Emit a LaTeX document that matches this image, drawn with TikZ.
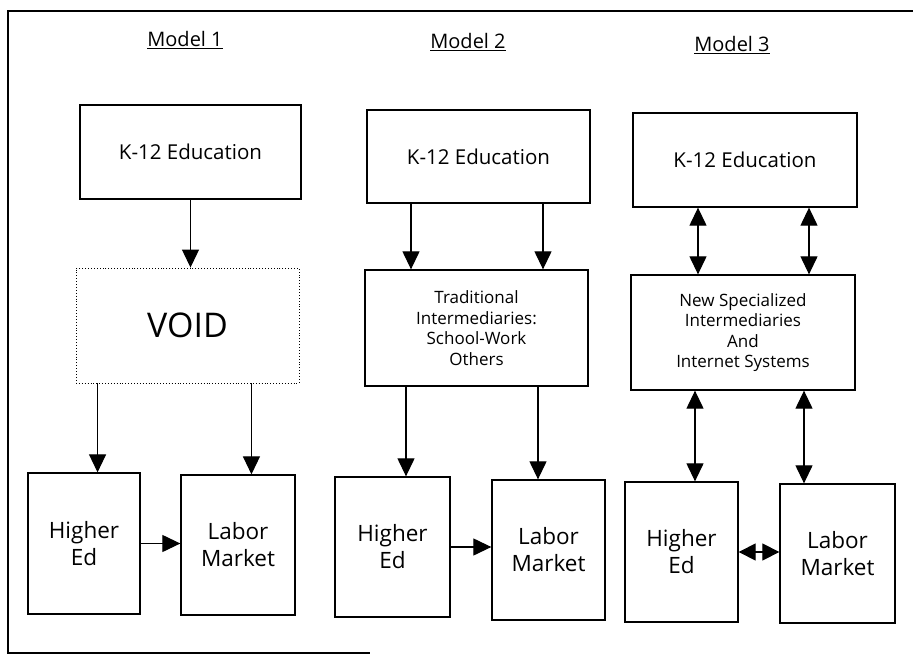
\documentclass[tikz,border=0pt]{standalone}
\usepackage{fontspec}
\setmainfont{Open Sans}
\usetikzlibrary{arrows.meta}
\begin{document}
\begin{tikzpicture}[x=1pt,y=-1pt,
  box/.style={draw, line width=1.3pt, rectangle, inner sep=0pt, align=center},
  voidbox/.style={draw, line width=0.9pt, dotted, rectangle, inner sep=0pt, align=center},
  toptxt/.style={font=\fontsize{20.5}{24}\selectfont},
  midtxt/.style={font=\fontsize{17}{20.5}\selectfont},
  bottxt/.style={font=\fontsize{22.5}{27}\selectfont},
  title/.style={font=\fontsize{20}{24}\selectfont, inner sep=0pt},
  arr/.style={line width=1.2pt, -{Triangle[length=18pt,width=17pt]}},
  darr/.style={line width=1.2pt, {Triangle[length=18pt,width=17pt]}-{Triangle[length=18pt,width=17pt]}},
  darrs/.style={line width=1.2pt, {Triangle[length=17pt,width=17pt]}-{Triangle[length=17pt,width=17pt]}}
]
\useasboundingbox (0,0) rectangle (913,658);
% frame
\draw[line width=1.1pt] (913,11) -- (8,11) -- (8,653) -- (370,653);

% titles
\node[title] (t1) at (185,40) {\underline{Model 1}};
\node[title] (t2) at (468,42) {\underline{Model 2}};
\node[title] (t3) at (732,45) {\underline{Model 3}};

% Model 1
\node[box, toptxt, minimum width=221pt, minimum height=94pt] (k1) at (190.5,152) {K-12 Education};
\node[voidbox, font=\fontsize{34}{38}\selectfont, minimum width=223pt, minimum height=115pt] (v1) at (187.5,325.5) {VOID};
\node[box, bottxt, minimum width=112pt, minimum height=141pt] (he1) at (84,543.5) {Higher\\Ed};
\node[box, bottxt, minimum width=114pt, minimum height=140pt] (lm1) at (238,545) {Labor\\Market};

% Model 2
\node[box, toptxt, minimum width=223pt, minimum height=93pt] (k2) at (478.5,156.5) {K-12 Education};
\node[box, midtxt, minimum width=223pt, minimum height=116pt] (tr2) at (476.5,328) {Traditional\\Intermediaries:\\School-Work\\Others};
\node[box, bottxt, minimum width=115pt, minimum height=140pt] (he2) at (392.5,547) {Higher\\Ed};
\node[box, bottxt, minimum width=113pt, minimum height=140pt] (lm2) at (548.5,550) {Labor\\Market};

% Model 3
\node[box, toptxt, minimum width=224pt, minimum height=94pt] (k3) at (745,160) {K-12 Education};
\node[box, midtxt, minimum width=224pt, minimum height=115pt] (ns3) at (743,332.5) {New Specialized\\Intermediaries\\And\\Internet Systems};
\node[box, bottxt, minimum width=113pt, minimum height=140pt] (he3) at (681.5,552) {Higher\\Ed};
\node[box, bottxt, minimum width=115pt, minimum height=139pt] (lm3) at (837.5,553.5) {Labor\\Market};

% Model 1 connectors
\draw[arr] (k1.south) -- (k1.south |- v1.north);
\draw[arr] ([xshift=22pt]v1.south west) -- ([xshift=22pt]v1.south west |- he1.north);
\draw[arr] ([xshift=-48pt]v1.south east) -- ([xshift=-48pt]v1.south east |- lm1.north);
\draw[arr] (he1.east) -- (he1.east -| lm1.west);

% Model 2 connectors
\draw[arr] ([xshift=-67.5pt]k2.south) -- ([xshift=-67.5pt]k2.south |- tr2.north);
\draw[arr] ([xshift=64.5pt]k2.south) -- ([xshift=64.5pt]k2.south |- tr2.north);
\draw[arr] ([xshift=-70.5pt]tr2.south) -- ([xshift=-70.5pt]tr2.south |- he2.north);
\draw[arr] ([xshift=61.5pt]tr2.south) -- ([xshift=61.5pt]tr2.south |- lm2.north);
\draw[arr] (he2.east) -- (he2.east -| lm2.west);

% Model 3 connectors
\draw[darr] ([xshift=-47pt]k3.south) -- ([xshift=-47pt]k3.south |- ns3.north);
\draw[darr] ([xshift=64pt]k3.south) -- ([xshift=64pt]k3.south |- ns3.north);
\draw[darr] ([xshift=-48pt]ns3.south) -- ([xshift=-48pt]ns3.south |- he3.north);
\draw[darr] ([xshift=61pt]ns3.south) -- ([xshift=61pt]ns3.south |- lm3.north);
\draw[darrs] (he3.east) -- (he3.east -| lm3.west);
\end{tikzpicture}
\end{document}
